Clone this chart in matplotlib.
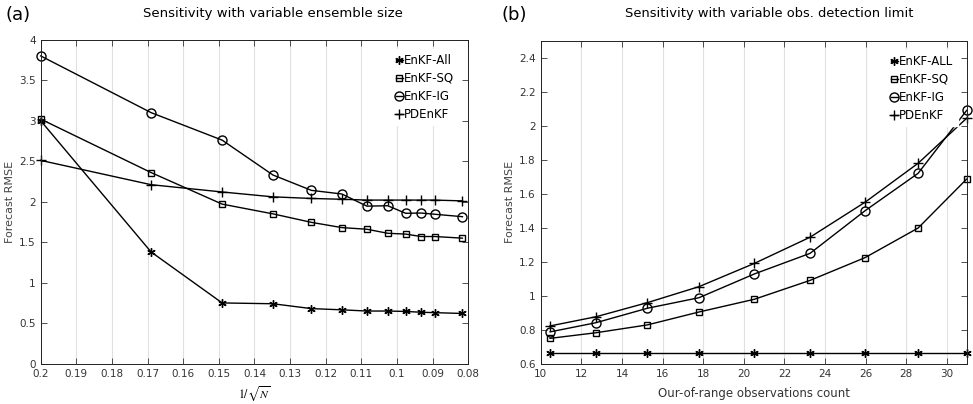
import matplotlib
matplotlib.use('Agg')
import matplotlib.pyplot as plt
import numpy as np

# (a) ensemble size sweep
ens_size = [25, 35, 45, 55, 65, 75, 85, 95, 105, 115, 125, 150]
a_all = [3.00, 1.38, 0.75, 0.74, 0.68, 0.665, 0.65, 0.65, 0.645, 0.635, 0.63, 0.62]
a_sq = [3.02, 2.36, 1.97, 1.85, 1.745, 1.68, 1.66, 1.61, 1.60, 1.57, 1.57, 1.55]
a_ig = [3.80, 3.10, 2.76, 2.33, 2.14, 2.095, 1.945, 1.95, 1.857, 1.86, 1.845, 1.815]
a_pd = [2.51, 2.21, 2.12, 2.06, 2.04, 2.03, 2.02, 2.02, 2.02, 2.02, 2.02, 2.01]

# (b) out-of-range observation count sweep
obs_count = [10.46, 12.72, 15.25, 17.79, 20.52, 23.26, 25.97, 28.58, 30.97]
b_all = [0.665, 0.665, 0.665, 0.665, 0.665, 0.665, 0.665, 0.665, 0.665]
b_sq = [0.749, 0.782, 0.828, 0.904, 0.979, 1.09, 1.224, 1.398, 1.686]
b_ig = [0.787, 0.841, 0.926, 0.988, 1.128, 1.249, 1.50, 1.72, 2.09]
b_pd = [0.822, 0.876, 0.959, 1.053, 1.19, 1.344, 1.55, 1.779, 2.044]

x_inv = 1.0 / np.sqrt(np.array(ens_size))

plt.rcParams['font.family'] = ['Liberation Sans Narrow', 'DejaVu Sans']
plt.rcParams['mathtext.fontset'] = 'stix'

fig = plt.figure(figsize=(9.73, 4.04), dpi=100)
ax1 = fig.add_axes([0.0418, 0.0998, 0.4395, 0.8019])
ax2 = fig.add_axes([0.5557, 0.0998, 0.4384, 0.7994])

star = (6, 2, 0)
styles = [dict(marker=star, ms=6, mew=1.0),
          dict(marker='s', ms=5, mfc='none', mew=1.0),
          dict(marker='o', ms=6.5, mfc='none', mew=1.0),
          dict(marker='+', ms=7, mew=1.0)]

def draw(ax, x, series, labels):
    for y, st, lab in zip(series, styles, labels):
        ax.plot(x, y, color='black', lw=1.0, label=lab, clip_on=False, **st)
    ax.grid(axis='x', color='#e0e0e0', lw=0.8)
    ax.set_axisbelow(True)
    ax.tick_params(direction='in', top=True, right=True, length=4,
                   labelsize=7.5, labelcolor='#333333', color='#333333', width=0.6)
    for s in ax.spines.values():
        s.set_linewidth(0.7)
        s.set_color('#222222')
    ax.set_ylabel('Forecast RMSE', fontsize=8, family='DejaVu Sans',
                  color='#444444', labelpad=3)
    ax.legend(loc='upper right', fontsize=8.5, frameon=True,
              handlelength=0.6, handletextpad=0.1, labelspacing=0.42,
              borderaxespad=0.8, fancybox=False, framealpha=1,
              edgecolor='white')

draw(ax1, x_inv, [a_all, a_sq, a_ig, a_pd],
     ['EnKF-All', 'EnKF-SQ', 'EnKF-IG', 'PDEnKF'])
ax1.set_xlim(0.2, 0.08)
ax1.set_ylim(0, 4)
xt = np.arange(0.08, 0.2001, 0.01)
ax1.set_xticks(xt)
ax1.set_xticklabels(['%g' % round(v, 2) for v in xt])
yt = np.arange(0, 4.01, 0.5)
ax1.set_yticks(yt)
ax1.set_yticklabels(['%g' % v for v in yt])
ax1.set_xlabel(r'$1/\sqrt{N}$', fontsize=8.5, labelpad=4)

draw(ax2, obs_count, [b_all, b_sq, b_ig, b_pd],
     ['EnKF-ALL', 'EnKF-SQ', 'EnKF-IG', 'PDEnKF'])
ax2.set_xlim(10, 31)
ax2.set_ylim(0.6, 2.5)
ax2.set_xticks(np.arange(10, 31, 2))
yt2 = np.arange(0.6, 2.41, 0.2)
ax2.set_yticks(yt2)
ax2.set_yticklabels(['%g' % round(v, 1) for v in yt2])
ax2.set_xlabel('Our-of-range observations count', fontsize=8.5,
               color='#333333', labelpad=6)

fig.text(0.28, 0.966, 'Sensitivity with variable ensemble size',
         ha='center', va='center', fontsize=9.5, family='DejaVu Sans')
fig.text(0.791, 0.966, 'Sensitivity with variable obs. detection limit',
         ha='center', va='center', fontsize=9.4, family='DejaVu Sans')
fig.text(0.0185, 0.963, '(a)', ha='center', va='center', fontsize=13,
         family='DejaVu Sans')
fig.text(0.529, 0.963, '(b)', ha='center', va='center', fontsize=13,
         family='DejaVu Sans')

fig.savefig('out.png', dpi=100)
